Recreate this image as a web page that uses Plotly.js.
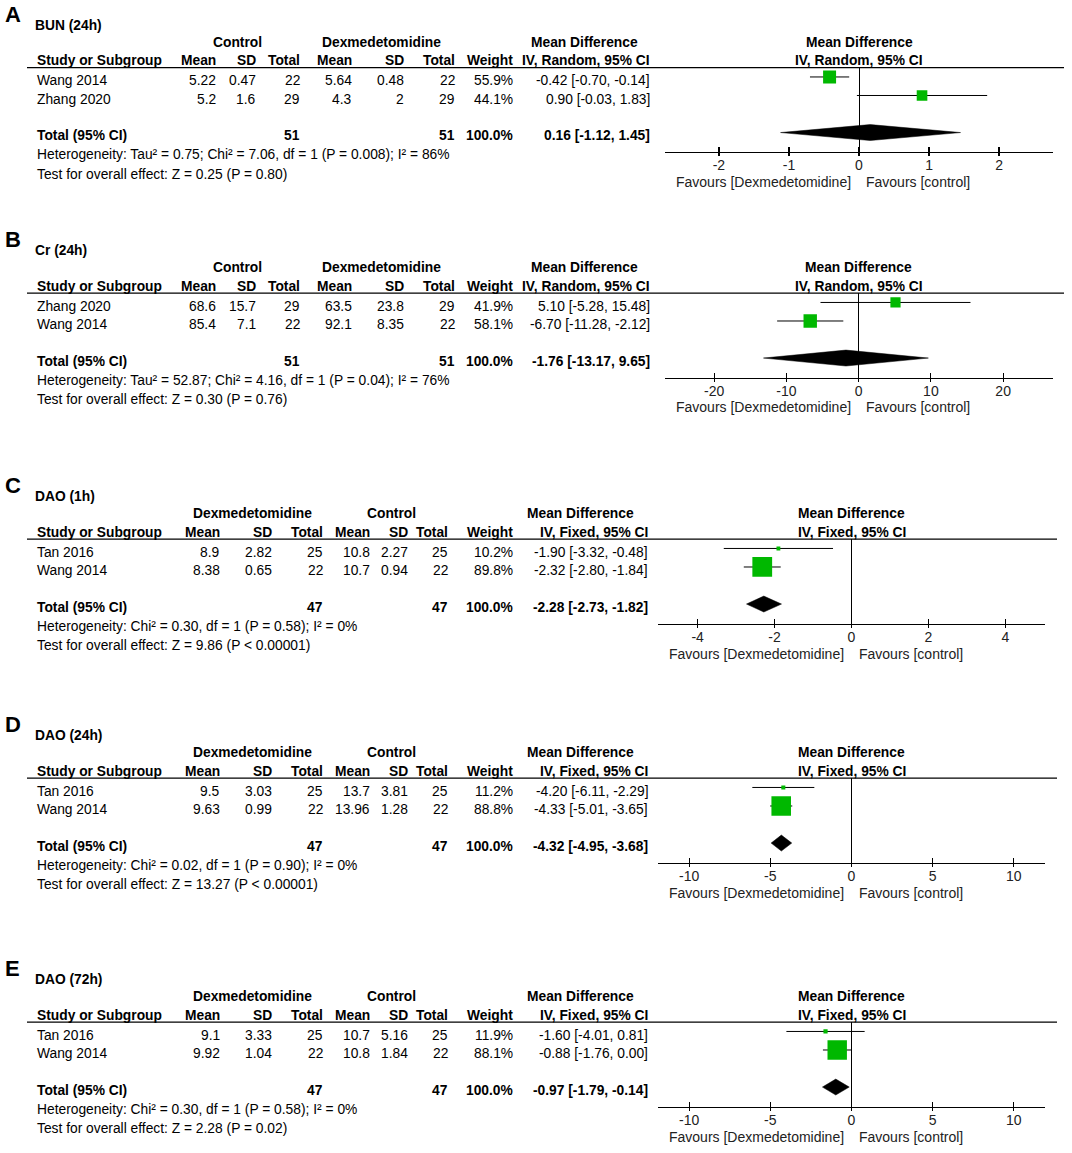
<!DOCTYPE html>
<html>
<head>
<meta charset="utf-8">
<script src="https://cdn.plot.ly/plotly-3.0.1.min.js"></script>
<style>html,body{margin:0;padding:0;background:#fff;}#chart{width:1072px;height:1153px;}</style>
</head>
<body>
<div id="chart"></div>
<script>
// ---------------- DATA ----------------
const panelLetters = ['A', 'B', 'C', 'D', 'E'];
const outcomeTitles = ['BUN (24h)', 'Cr (24h)', 'DAO (1h)', 'DAO (24h)', 'DAO (72h)'];
const firstGroup = ['Control', 'Control', 'Dexmedetomidine', 'Dexmedetomidine', 'Dexmedetomidine'];
const secondGroup = ['Dexmedetomidine', 'Dexmedetomidine', 'Control', 'Control', 'Control'];
const effectModel = ['IV, Random, 95% CI', 'IV, Random, 95% CI', 'IV, Fixed, 95% CI', 'IV, Fixed, 95% CI', 'IV, Fixed, 95% CI'];
const studyNames = [['Wang 2014', 'Zhang 2020'], ['Zhang 2020', 'Wang 2014'], ['Tan 2016', 'Wang 2014'], ['Tan 2016', 'Wang 2014'], ['Tan 2016', 'Wang 2014']];
const mean1 = [[5.22, 5.2], [68.6, 85.4], [8.9, 8.38], [9.5, 9.63], [9.1, 9.92]];
const sd1 = [[0.47, 1.6], [15.7, 7.1], [2.82, 0.65], [3.03, 0.99], [3.33, 1.04]];
const n1 = [[22, 29], [29, 22], [25, 22], [25, 22], [25, 22]];
const mean2 = [[5.64, 4.3], [63.5, 92.1], [10.8, 10.7], [13.7, 13.96], [10.7, 10.8]];
const sd2 = [[0.48, 2], [23.8, 8.35], [2.27, 0.94], [3.81, 1.28], [5.16, 1.84]];
const n2 = [[22, 29], [29, 22], [25, 22], [25, 22], [25, 22]];
const weightPct = [[55.9, 44.1], [41.9, 58.1], [10.2, 89.8], [11.2, 88.8], [11.9, 88.1]];
const meanDiff = [[-0.42, 0.90], [5.10, -6.70], [-1.90, -2.32], [-4.20, -4.33], [-1.60, -0.88]];
const ciLow = [[-0.70, -0.03], [-5.28, -11.28], [-3.32, -2.80], [-6.11, -5.01], [-4.01, -1.76]];
const ciHigh = [[-0.14, 1.83], [15.48, -2.12], [-0.48, -1.84], [-2.29, -3.65], [0.81, 0.00]];
const totalN1 = [51, 51, 47, 47, 47];
const totalN2 = [51, 51, 47, 47, 47];
const pooledMD = [0.16, -1.76, -2.28, -4.32, -0.97];
const pooledLow = [-1.12, -13.17, -2.73, -4.95, -1.79];
const pooledHigh = [1.45, 9.65, -1.82, -3.68, -0.14];
const heterogeneityText = [
  'Heterogeneity: Tau² = 0.75; Chi² = 7.06, df = 1 (P = 0.008); I² = 86%',
  'Heterogeneity: Tau² = 52.87; Chi² = 4.16, df = 1 (P = 0.04); I² = 76%',
  'Heterogeneity: Chi² = 0.30, df = 1 (P = 0.58); I² = 0%',
  'Heterogeneity: Chi² = 0.02, df = 1 (P = 0.90); I² = 0%',
  'Heterogeneity: Chi² = 0.30, df = 1 (P = 0.58); I² = 0%'
];
const overallEffectText = [
  'Test for overall effect: Z = 0.25 (P = 0.80)',
  'Test for overall effect: Z = 0.30 (P = 0.76)',
  'Test for overall effect: Z = 9.86 (P &lt; 0.00001)',
  'Test for overall effect: Z = 13.27 (P &lt; 0.00001)',
  'Test for overall effect: Z = 2.28 (P = 0.02)'
];
const tickValues = [[-2, -1, 0, 1, 2], [-20, -10, 0, 10, 20], [-4, -2, 0, 2, 4], [-10, -5, 0, 5, 10], [-10, -5, 0, 5, 10]];
const tickLabels = [['-2', '-1', '0', '1', '2'], ['-20', '-10', '0', '10', '20'], ['-4', '-2', '0', '2', '4'], ['-10', '-5', '0', '5', '10'], ['-10', '-5', '0', '5', '10']];
const axisRanges = [[-2.77, 2.77], [-26.8, 26.9], [-5.03, 5.03], [-11.92, 11.92], [-11.92, 11.92]];
const favoursLeft = 'Favours [Dexmedetomidine]';
const favoursRight = 'Favours [control]';

// ---------------- LAYOUT GEOMETRY (pixels) ----------------
const W = 1072, H = 1153;
const fx = p => p / W;
const fy = p => 1 - p / H;
const panelOffsets = [0, 225.5, 471.5, 710.5, 954.5];
const geomAB = {m1: 218, s1: 258, t1: 302, m2: 354, s2: 406, t2: 457, w: 515, ci: 652, g1: 237, g2: 381, md: 584, f0: 665, f1: 1053, lineR: 1064};
const geomCDE = {m1: 222, s1: 274, t1: 325, m2: 372, s2: 410, t2: 450, w: 515, ci: 650, g1: 252, g2: 391, md: 580, f0: 658, f1: 1045, lineR: 1057};
const rowY = {letter: 14, title: 25, group: 42, col: 61, r: [80.7, 99.3], total: 135.7, het: 155, test: 174, line: 67.7, axis: 152, favours: 182};
const studyRows = [1, 2];
const totalRow = 4;
const FONT = 'Liberation Sans, Arial, sans-serif';
const GREEN = '#00B800';

const traces = [];
const annotations = [];
const shapes = [];
const layout = {
  width: W, height: H,
  margin: {l: 0, r: 0, t: 0, b: 0},
  paper_bgcolor: '#fff', plot_bgcolor: 'rgba(0,0,0,0)',
  showlegend: false,
  font: {family: FONT, size: 14, color: '#000'},
  annotations: annotations,
  shapes: shapes
};

function addText(text, xpx, ypx, xanchor, bold, size, color) {
  annotations.push({
    text: bold ? '<b>' + text + '</b>' : text,
    x: fx(xpx), y: fy(ypx), xref: 'paper', yref: 'paper',
    xanchor: xanchor, yanchor: 'middle', showarrow: false,
    font: {family: FONT, size: size || 13.8, color: color || '#000'}
  });
}

for (let i = 0; i < 5; i++) {
  const off = panelOffsets[i];
  const g = i < 2 ? geomAB : geomCDE;
  const n = i + 1;
  const xa = n === 1 ? 'x' : 'x' + n;
  const ya = n === 1 ? 'y' : 'y' + n;
  const xo = 'x' + (n + 5);
  const r = axisRanges[i];
  const zeroPx = g.f0 + (0 - r[0]) / (r[1] - r[0]) * (g.f1 - g.f0);

  // axes: labelled axis with inside ticks, overlay axis adds the part of each tick below the line
  layout['xaxis' + (n === 1 ? '' : n)] = {
    domain: [fx(g.f0), fx(g.f1)], range: r, anchor: ya,
    tickmode: 'array', tickvals: tickValues[i], ticktext: tickLabels[i],
    ticks: 'inside', ticklen: 5, tickwidth: 1.2, tickcolor: '#000',
    ticklabelstandoff: 0,
    showline: true, linecolor: '#000', linewidth: 1.3,
    zeroline: true, zerolinecolor: '#000', zerolinewidth: 1,
    showgrid: false, fixedrange: true,
    tickfont: {family: FONT, size: 14, color: '#222'}
  };
  layout['xaxis' + (n + 5)] = {
    overlaying: xa, anchor: ya, range: r,
    tickmode: 'array', tickvals: tickValues[i],
    ticks: 'outside', ticklen: 3, tickwidth: 1.2, tickcolor: '#000',
    showticklabels: false, showline: false, zeroline: false, showgrid: false, fixedrange: true
  };
  layout['yaxis' + (n === 1 ? '' : n)] = {
    domain: [fy(off + rowY.axis), fy(off + rowY.line)], range: [5.05, 0.5],
    anchor: xa, visible: false, fixedrange: true, showgrid: false, zeroline: false
  };

  // study estimates with CI
  traces.push({
    type: 'scatter', mode: 'markers', xaxis: xa, yaxis: ya,
    x: meanDiff[i], y: studyRows,
    marker: {symbol: 'square', color: GREEN, opacity: 1, size: weightPct[i].map(w => 1.8 + 0.2 * w), line: {width: 0}},
    error_x: {
      type: 'data', symmetric: false,
      array: ciHigh[i].map((h, k) => h - meanDiff[i][k]),
      arrayminus: ciLow[i].map((l, k) => meanDiff[i][k] - l),
      thickness: 1, width: 0, color: '#000'
    },
    hoverinfo: 'skip'
  });
  // pooled diamond
  traces.push({
    type: 'scatter', mode: 'lines', xaxis: xo, yaxis: ya,
    x: [pooledLow[i], pooledMD[i], pooledHigh[i], pooledMD[i], pooledLow[i]],
    y: [totalRow, totalRow - 0.43, totalRow, totalRow + 0.43, totalRow],
    fill: 'toself', fillcolor: '#000', line: {color: '#000', width: 0.5},
    hoverinfo: 'skip'
  });

  // header rule
  shapes.push({type: 'line', xref: 'paper', yref: 'paper',
    x0: fx(27), x1: fx(g.lineR), y0: fy(off + rowY.line), y1: fy(off + rowY.line),
    line: {color: '#000', width: 1.3}});

  // panel letter & title
  addText(panelLetters[i], 3, off + rowY.letter, 'left', true, 22);
  addText(outcomeTitles[i], 33, off + rowY.title, 'left', true);
  // group headers
  addText(firstGroup[i], g.g1, off + rowY.group, 'center', true);
  addText(secondGroup[i], g.g2, off + rowY.group, 'center', true);
  addText('Mean Difference', g.md, off + rowY.group, 'center', true);
  addText('Mean Difference', zeroPx, off + rowY.group, 'center', true);
  // column headers
  addText('Study or Subgroup', 35, off + rowY.col, 'left', true);
  addText('Mean', g.m1, off + rowY.col, 'right', true);
  addText('SD', g.s1, off + rowY.col, 'right', true);
  addText('Total', g.t1, off + rowY.col, 'right', true);
  addText('Mean', g.m2, off + rowY.col, 'right', true);
  addText('SD', g.s2, off + rowY.col, 'right', true);
  addText('Total', g.t2, off + rowY.col, 'right', true);
  addText('Weight', g.w, off + rowY.col, 'right', true);
  addText(effectModel[i], g.ci, off + rowY.col, 'right', true);
  addText(effectModel[i], zeroPx, off + rowY.col, 'center', true);
  // study rows
  for (let k = 0; k < 2; k++) {
    const y = off + rowY.r[k];
    addText(studyNames[i][k], 35, y, 'left');
    addText(String(mean1[i][k]), g.m1, y, 'right');
    addText(String(sd1[i][k]), g.s1, y, 'right');
    addText(String(n1[i][k]), g.t1, y, 'right');
    addText(String(mean2[i][k]), g.m2, y, 'right');
    addText(String(sd2[i][k]), g.s2, y, 'right');
    addText(String(n2[i][k]), g.t2, y, 'right');
    addText(weightPct[i][k].toFixed(1) + '%', g.w, y, 'right');
    addText(meanDiff[i][k].toFixed(2) + ' [' + ciLow[i][k].toFixed(2) + ', ' + ciHigh[i][k].toFixed(2) + ']', g.ci, y, 'right');
  }
  // total row
  const yt = off + rowY.total;
  addText('Total (95% CI)', 35, yt, 'left', true);
  addText(String(totalN1[i]), g.t1, yt, 'right', true);
  addText(String(totalN2[i]), g.t2, yt, 'right', true);
  addText('100.0%', g.w, yt, 'right', true);
  addText(pooledMD[i].toFixed(2) + ' [' + pooledLow[i].toFixed(2) + ', ' + pooledHigh[i].toFixed(2) + ']', g.ci, yt, 'right', true);
  addText(heterogeneityText[i], 35, off + rowY.het, 'left');
  addText(overallEffectText[i], 35, off + rowY.test, 'left');
  // favours labels
  addText(favoursLeft, zeroPx - 6, off + rowY.favours, 'right', false, 14, '#222');
  addText(favoursRight, zeroPx + 5, off + rowY.favours, 'left', false, 14, '#222');
}

Plotly.newPlot('chart', traces, layout, {staticPlot: true, displayModeBar: false});
</script>
</body>
</html>
